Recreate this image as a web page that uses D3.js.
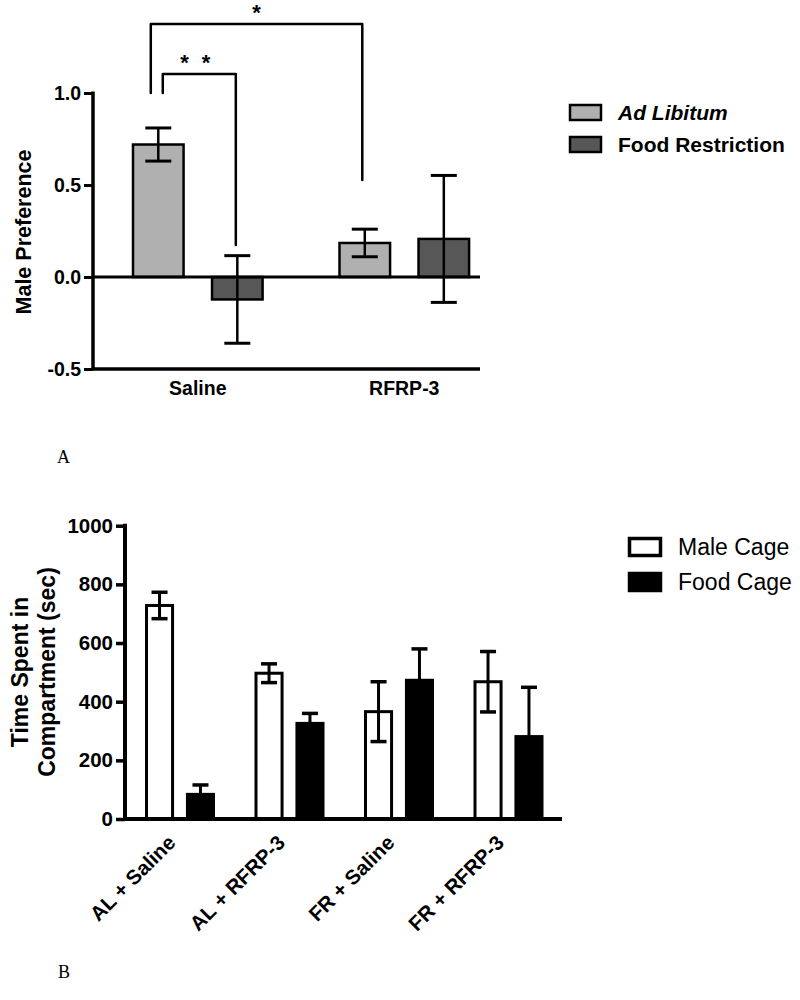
<!DOCTYPE html>
<html>
<head>
<meta charset="utf-8">
<script src="https://cdn.jsdelivr.net/npm/d3@7"></script>
<style>
  html, body { margin: 0; padding: 0; background: #fff; }
  svg { display: block; }
</style>
</head>
<body>
<script>
// ---------- Panel A data ----------
const groupsA = ["Saline", "RFRP-3"];
const seriesA = ["Ad Libitum", "Food Restriction"];
const meanAL = [0.72, 0.185];
const semAL = [0.09, 0.075];
const meanFR = [-0.122, 0.207];
const semFR = [0.238, 0.345];
const ticksA = [-0.5, 0.0, 0.5, 1.0];
const colorsA = ["#b0b0b0", "#575757"];

// significance brackets
const brFrom = [["Saline", "Ad Libitum"], ["Saline", "Ad Libitum"]];
const brTo = [["RFRP-3", "Ad Libitum"], ["Saline", "Food Restriction"]];
const brTop = [1.375, 1.103];
const brLeftEnd = [1.0, 1.0];
const brRightEnd = [0.527, 0.174];
const brLabel = ["*", "* *"];

// ---------- Panel B data ----------
const groupsB = ["AL + Saline", "AL + RFRP-3", "FR + Saline", "FR + RFRP-3"];
const seriesB = ["Male Cage", "Food Cage"];
const maleMean = [728, 497, 366, 468];
const maleSem = [45, 32, 102, 103];
const foodMean = [84, 326, 473, 281];
const foodSem = [32, 34, 107, 168];
const ticksB = [0, 200, 400, 600, 800, 1000];
const fillsB = ["#ffffff", "#000000"];

const SANS = "'Liberation Sans', Arial, sans-serif";
const SERIF = "'Liberation Serif', 'Times New Roman', serif";
const hyphenFmt = f => (d => f(d).replace("\u2212", "-"));

const svg = d3.select("body").append("svg")
  .attr("width", 800).attr("height", 1000)
  .attr("font-family", SANS);

// ================= PANEL A =================
{
  const g = svg.append("g");
  const y = d3.scaleLinear().domain([-0.5, 1.0]).range([369, 93]);
  const x0 = d3.scaleBand().domain(groupsA).range([94.5, 507.5]).padding(0);
  const x1 = d3.scaleBand().domain(seriesA).range([38.5, 168.1]).paddingInner(0.36).paddingOuter(0);

  const data = [];
  groupsA.forEach((gr, i) => {
    data.push({ g: gr, s: seriesA[0], m: meanAL[i], e: semAL[i], c: colorsA[0] });
    data.push({ g: gr, s: seriesA[1], m: meanFR[i], e: semFR[i], c: colorsA[1] });
  });
  const cx = d => x0(d.g) + x1(d.s) + x1.bandwidth() / 2;

  g.selectAll("rect.bar").data(data).enter().append("rect")
    .attr("class", "bar")
    .attr("x", d => x0(d.g) + x1(d.s))
    .attr("width", x1.bandwidth())
    .attr("y", d => y(Math.max(0, d.m)))
    .attr("height", d => Math.abs(y(d.m) - y(0)))
    .attr("fill", d => d.c)
    .attr("stroke", "#000").attr("stroke-width", 2.5);

  g.append("line").attr("x1", 93).attr("x2", 480).attr("y1", y(0)).attr("y2", y(0))
    .attr("stroke", "#000").attr("stroke-width", 3);

  const eb = g.selectAll("g.eb").data(data).enter().append("g").attr("class", "eb");
  eb.append("line").attr("x1", cx).attr("x2", cx)
    .attr("y1", d => y(d.m + d.e)).attr("y2", d => y(d.m - d.e))
    .attr("stroke", "#000").attr("stroke-width", 2.5);
  [1, -1].forEach(sg => {
    eb.append("line").attr("x1", d => cx(d) - 13).attr("x2", d => cx(d) + 13)
      .attr("y1", d => y(d.m + sg * d.e)).attr("y2", d => y(d.m + sg * d.e))
      .attr("stroke", "#000").attr("stroke-width", 3);
  });

  const ya = d3.axisLeft(y).tickValues(ticksA).tickFormat(hyphenFmt(d3.format(".1f"))).tickSize(9).tickPadding(3);
  const yg = g.append("g").attr("transform", "translate(93,0)").call(ya);
  yg.attr("font-family", SANS);
  yg.select(".domain").attr("stroke-width", 3.5).attr("d", `M0,${y(-0.5)}V${y(1.0) - 1.5}`);
  yg.selectAll(".tick line").attr("stroke-width", 3);
  yg.selectAll(".tick text").attr("font-size", 19.5).attr("font-weight", "bold").attr("fill", "#000");

  const xa = d3.axisBottom(x0).tickSize(0).tickPadding(12);
  const xg = g.append("g").attr("transform", `translate(0,${y(-0.5)})`).call(xa);
  xg.attr("font-family", SANS);
  xg.select(".domain").attr("stroke-width", 3.5).attr("d", "M93,0H480");
  xg.selectAll(".tick text").attr("font-size", 19.5).attr("font-weight", "bold").attr("fill", "#000");

  g.append("text").attr("transform", "translate(31,232) rotate(-90)")
    .attr("text-anchor", "middle").attr("font-size", 21.5).attr("font-weight", "bold")
    .text("Male Preference");

  const bx = (pair) => x0(pair[0]) + x1(pair[1]) + x1.bandwidth() / 2;
  const leftOff = [-7.5, 4.5], rightOff = [-2.5, -1.5];
  brLabel.forEach((lab, i) => {
    const xl = bx(brFrom[i]) + leftOff[i];
    const xr = bx(brTo[i]) + rightOff[i];
    g.append("path")
      .attr("d", `M${xl},${y(brLeftEnd[i])}V${y(brTop[i])}H${xr}V${y(brRightEnd[i])}`)
      .attr("fill", "none").attr("stroke", "#000").attr("stroke-width", 2.5)
      .attr("stroke-linejoin", "round").attr("stroke-linecap", "round");
    g.append("text").attr("x", (xl + xr) / 2 - (i === 1 ? 4 : 0)).attr("y", y(brTop[i]) - 4)
      .attr("text-anchor", "middle").attr("font-size", 22).attr("font-weight", "bold")
      .attr("word-spacing", "7px")
      .text(lab);
  });

  const legY = [112.5, 144.5];
  seriesA.forEach((s, i) => {
    g.append("rect").attr("x", 570).attr("y", legY[i] - 7.5).attr("width", 31).attr("height", 15)
      .attr("fill", colorsA[i]).attr("stroke", "#000").attr("stroke-width", 2.5);
    g.append("text").attr("x", 618).attr("y", legY[i]).attr("dy", "0.36em")
      .attr("font-size", 21).attr("font-weight", "bold")
      .attr("font-style", i === 0 ? "italic" : "normal")
      .text(s);
  });

  svg.append("text").attr("x", 57).attr("y", 463).attr("font-size", 18)
    .attr("font-family", SERIF).text("A");
}

// ================= PANEL B =================
{
  const g = svg.append("g");
  const y = d3.scaleLinear().domain([0, 1000]).range([819, 525.7]);
  const x0 = d3.scaleBand().domain(groupsB).range([125, 563]).padding(0);
  const x1 = d3.scaleBand().domain(seriesB).range([20, 90]).paddingInner(0.29).paddingOuter(0);

  const data = [];
  groupsB.forEach((gr, i) => {
    data.push({ g: gr, s: seriesB[0], m: maleMean[i], e: maleSem[i], c: fillsB[0] });
    data.push({ g: gr, s: seriesB[1], m: foodMean[i], e: foodSem[i], c: fillsB[1] });
  });
  const cx = d => x0(d.g) + x1(d.s) + x1.bandwidth() / 2;

  g.selectAll("rect.bar").data(data).enter().append("rect")
    .attr("x", d => x0(d.g) + x1(d.s) + 1.5)
    .attr("width", x1.bandwidth() - 3)
    .attr("y", d => y(d.m))
    .attr("height", d => y(0) - y(d.m))
    .attr("fill", d => d.c)
    .attr("stroke", "#000").attr("stroke-width", 3);

  const eb = g.selectAll("g.eb").data(data).enter().append("g");
  eb.append("line").attr("x1", cx).attr("x2", cx)
    .attr("y1", d => y(d.m + d.e)).attr("y2", d => y(d.m - d.e))
    .attr("stroke", "#000").attr("stroke-width", 3);
  [1, -1].forEach(sg => {
    eb.append("line").attr("x1", d => cx(d) - 8).attr("x2", d => cx(d) + 8)
      .attr("y1", d => y(d.m + sg * d.e)).attr("y2", d => y(d.m + sg * d.e))
      .attr("stroke", "#000").attr("stroke-width", 3.5);
  });

  const ya = d3.axisLeft(y).tickValues(ticksB).tickFormat(d3.format("d")).tickSize(9).tickPadding(3);
  const yg = g.append("g").attr("transform", "translate(125,0)").call(ya);
  yg.attr("font-family", SANS);
  yg.select(".domain").attr("stroke-width", 4).attr("d", `M0,${y(0)}V${y(1000) - 2}`);
  yg.selectAll(".tick line").attr("stroke-width", 3.5);
  yg.selectAll(".tick text").attr("font-size", 20.5).attr("font-weight", "bold").attr("fill", "#000");

  const xa = d3.axisBottom(x0).tickSize(0).tickPadding(0);
  const xg = g.append("g").attr("transform", `translate(0,${y(0)})`).call(xa);
  xg.attr("font-family", SANS);
  xg.select(".domain").attr("stroke-width", 4).attr("d", "M123,0H562");
  xg.selectAll(".tick text")
    .attr("font-size", 20.5).attr("font-weight", "bold").attr("fill", "#000")
    .attr("text-anchor", "end")
    .attr("dy", 0)
    .attr("transform", "translate(-3,25) rotate(-45)");

  g.append("text").attr("transform", "translate(20,672) rotate(-90)").attr("dy", "0.36em")
    .attr("text-anchor", "middle").attr("font-size", 23).attr("font-weight", "bold")
    .text("Time Spent in");
  g.append("text").attr("transform", "translate(47,672) rotate(-90)").attr("dy", "0.36em")
    .attr("text-anchor", "middle").attr("font-size", 23).attr("font-weight", "bold")
    .text("Compartment (sec)");

  const legY = [547, 582];
  seriesB.forEach((s, i) => {
    g.append("rect").attr("x", 629.5).attr("y", legY[i] - 8.5).attr("width", 31).attr("height", 17)
      .attr("fill", fillsB[i]).attr("stroke", "#000").attr("stroke-width", 3.5);
    g.append("text").attr("x", 678).attr("y", legY[i]).attr("dy", "0.36em")
      .attr("font-size", 23).text(s);
  });

  svg.append("text").attr("x", 58).attr("y", 978).attr("font-size", 18)
    .attr("font-family", SERIF).text("B");
}
</script>
</body>
</html>
